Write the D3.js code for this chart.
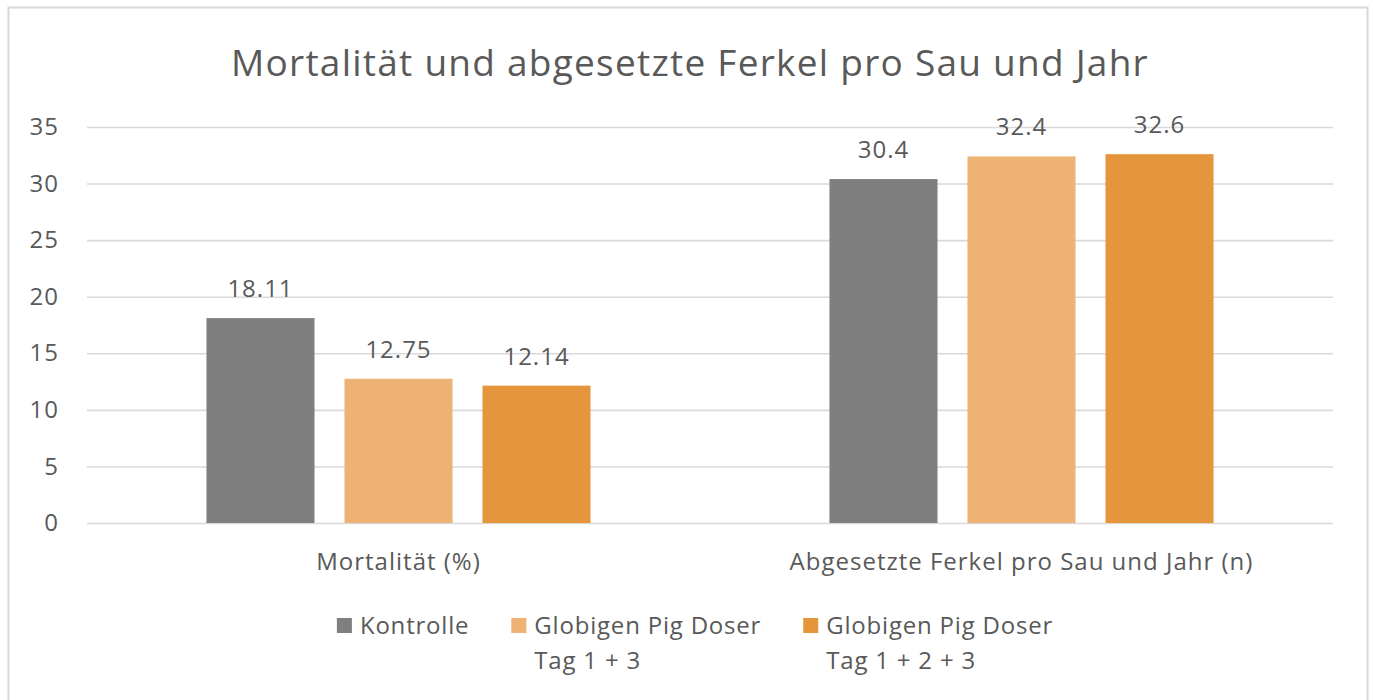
<!DOCTYPE html>
<html>
<head>
<meta charset="utf-8">
<script src="https://cdn.jsdelivr.net/npm/d3@7"></script>
<style>
  body { margin: 0; background: #fff; }
  svg text { font-family: "Open Sans", "Noto Sans", sans-serif; fill: #595959; letter-spacing: 1px; }
</style>
</head>
<body>
<div id="chart"></div>
<script>
// data
var categories = ['Mortalität (%)', 'Abgesetzte Ferkel pro Sau und Jahr (n)'];
var seriesNames = ['Kontrolle', 'Globigen Pig Doser\nTag 1 + 3', 'Globigen Pig Doser\nTag 1 + 2 + 3'];
var seriesColors = ['#7f7f7f', '#edb274', '#e5963d'];
var kontrolle = [18.11, 30.4];
var doser13 = [12.75, 32.4];
var doser123 = [12.14, 32.6];
var yTicks = [0, 5, 10, 15, 20, 25, 30, 35];

var values = [kontrolle, doser13, doser123];

var W = 1373, H = 700;
var margin = {top: 127, right: 40, bottom: 177, left: 87}
    , width = 1333 - margin.left
    , height = 523 - margin.top;

var svg = d3.select('#chart')
    .append('svg')
    .attr('width', W)
    .attr('height', H);

// outer border of the chart area
svg.append('rect')
    .attr('x', 8.5)
    .attr('y', 7.5)
    .attr('width', 1359)
    .attr('height', 740)
    .attr('fill', '#fff')
    .attr('stroke', '#d9d9d9')
    .attr('stroke-width', 2);

// title
svg.append('text')
    .attr('x', 690)
    .attr('y', 76)
    .attr('text-anchor', 'middle')
    .style('font-size', '37px')
    .style('letter-spacing', '1.25px')
    .text('Mortalität und abgesetzte Ferkel pro Sau und Jahr');

var main = svg.append('g')
    .attr('transform', 'translate(' + margin.left + ',' + margin.top + ')');

var y = d3.scaleLinear()
    .domain([0, 35])
    .range([height, 0]);

var x0 = d3.scaleBand()
    .domain(categories)
    .range([0, width]);

// the three bars span ~384px of each 623px group
var clusterW = x0.bandwidth() * 0.6165;
var x1 = d3.scaleBand()
    .domain(d3.range(seriesNames.length))
    .range([(x0.bandwidth() - clusterW) / 2, (x0.bandwidth() + clusterW) / 2])
    .paddingInner(0.217);

// y axis with gridlines
var yAxis = d3.axisLeft(y)
    .tickValues(yTicks)
    .tickSize(-width)
    .tickPadding(28);

var yg = main.append('g')
    .call(yAxis);
yg.select('.domain').remove();
yg.selectAll('.tick line')
    .attr('stroke', '#d9d9d9')
    .attr('stroke-width', 1.6);
yg.selectAll('.tick text')
    .style('font-size', '24px')
    .attr('fill', '#595959');

// bars
var groups = main.selectAll('g.group')
    .data(categories)
    .enter()
    .append('g')
    .attr('class', 'group')
    .attr('transform', function (d) { return 'translate(' + x0(d) + ',0)'; });

groups.selectAll('rect')
    .data(function (d, ci) {
        return values.map(function (s, si) { return {s: si, v: s[ci]}; });
    })
    .enter()
    .append('rect')
    .attr('x', function (d) { return x1(d.s); })
    .attr('y', function (d) { return y(d.v); })
    .attr('width', x1.bandwidth())
    .attr('height', function (d) { return y(0) - y(d.v); })
    .attr('fill', function (d) { return seriesColors[d.s]; });

// data labels
groups.selectAll('text.val')
    .data(function (d, ci) {
        return values.map(function (s, si) { return {s: si, v: s[ci]}; });
    })
    .enter()
    .append('text')
    .attr('class', 'val')
    .attr('x', function (d) { return x1(d.s) + x1.bandwidth() / 2; })
    .attr('y', function (d) { return y(d.v) - 21; })
    .attr('text-anchor', 'middle')
    .style('font-size', '24px')
    .attr('fill', '#404040')
    .text(function (d) { return String(d.v); });

// category labels
main.selectAll('text.cat')
    .data(categories)
    .enter()
    .append('text')
    .attr('class', 'cat')
    .attr('x', function (d) { return x0(d) + x0.bandwidth() / 2; })
    .attr('y', height + 47)
    .attr('text-anchor', 'middle')
    .style('font-size', '24px')
    .text(function (d) { return d; });

// legend
var legend = svg.append('g');
var items = legend.selectAll('g.item')
    .data(seriesNames)
    .enter()
    .append('g')
    .attr('class', 'item');

items.append('rect')
    .attr('x', 0)
    .attr('y', 618)
    .attr('width', 15)
    .attr('height', 15)
    .attr('fill', function (d, i) { return seriesColors[i]; });

items.append('text')
    .attr('x', 23)
    .attr('y', 634)
    .style('font-size', '24px')
    .style('letter-spacing', '0.8px')
    .each(function (d) {
        var t = d3.select(this);
        d.split('\n').forEach(function (line, li) {
            t.append('tspan')
                .attr('x', 23)
                .attr('dy', li == 0 ? 0 : 35)
                .text(line);
        });
    });

var widths = [];
items.each(function () { widths.push(this.getBBox().width); });
var gap = 42;
var total = d3.sum(widths) + gap * (widths.length - 1);
var lx = 695 - total / 2;
items.attr('transform', function (d, i) {
    var xx = lx;
    lx += widths[i] + gap;
    return 'translate(' + xx + ',0)';
});
</script>
</body>
</html>
